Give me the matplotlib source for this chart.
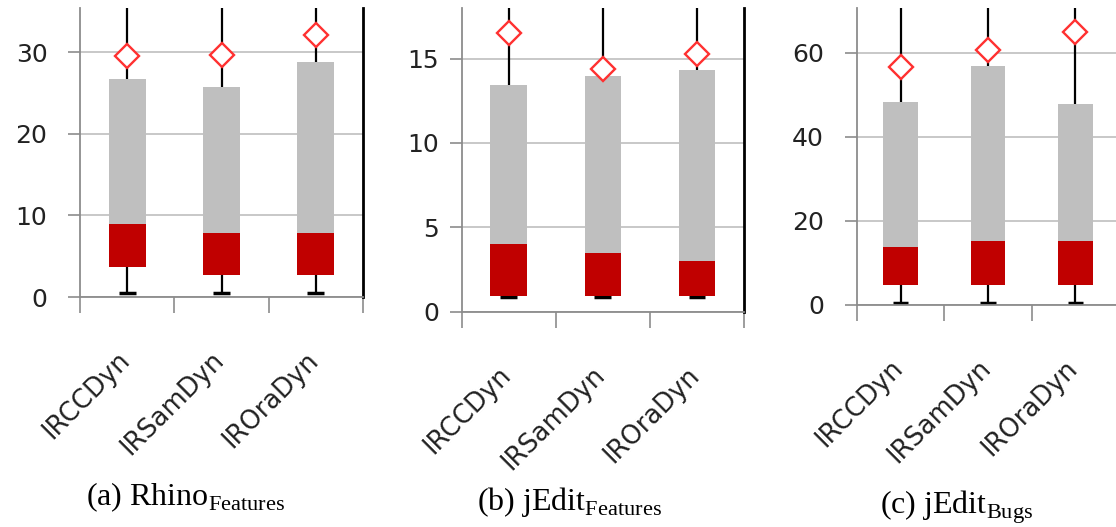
import matplotlib.pyplot as plt
from matplotlib.transforms import ScaledTranslation

plt.rcParams['mathtext.fontset'] = 'custom'
plt.rcParams['mathtext.rm'] = 'Liberation Serif'

methods = ['IRCCDyn', 'IRSamDyn', 'IROraDyn']

# (a) Rhino features
rhino_low = [0.5, 0.5, 0.5]
rhino_q1 = [3.7, 2.7, 2.7]
rhino_med = [8.9, 7.9, 7.9]
rhino_q3 = [26.8, 25.8, 28.8]
rhino_high = [40, 40, 40]      # upper whiskers run off the top of the crop
rhino_mean = [29.6, 29.7, 32.2]

# (b) jEdit features
jf_low = [0.85, 0.85, 0.85]
jf_q1 = [0.95, 0.95, 0.95]
jf_med = [4.0, 3.5, 3.0]
jf_q3 = [13.45, 13.95, 14.3]
jf_high = [20, 20, 20]
jf_mean = [16.5, 14.4, 15.3]

# (c) jEdit bugs
jb_low = [0.4, 0.4, 0.4]
jb_q1 = [4.8, 4.8, 4.8]
jb_med = [13.7, 15.1, 15.1]
jb_q3 = [48.2, 56.8, 47.7]
jb_high = [80, 80, 80]
jb_mean = [56.5, 60.6, 65.0]

RED = '#c00000'
GRAY = '#bfbfbf'
AXIS = '#8c8c8c'


def draw_panel(fig, rect, low, q1, med, q3, high, mean, ymax, yticks, ypad, right_spine):
    ax = fig.add_axes(rect)
    x = list(range(len(methods)))
    w = 0.39

    # whiskers behind the boxes
    ax.vlines(x, low, high, color='black', lw=1.6, zorder=2)
    ax.hlines(low, [i - 0.09 for i in x], [i + 0.09 for i in x], color='black', lw=2.5, zorder=2)

    ax.bar(x, [m - a for m, a in zip(med, q1)], bottom=q1, width=w, color=RED, zorder=3)
    ax.bar(x, [b - m for b, m in zip(q3, med)], bottom=med, width=w, color=GRAY, zorder=3)

    ax.plot(x, mean, linestyle='none', marker='D', ms=12, mfc='white',
            mec='#ff3030', mew=1.7, zorder=4, clip_on=False)

    ax.set_xlim(-0.5, 2.5)
    ax.set_ylim(0, ymax)
    ax.set_yticks(yticks)
    ax.yaxis.grid(True, color='#c4c4c4', lw=1.3)
    ax.set_axisbelow(True)

    ax.spines['top'].set_visible(False)
    ax.spines['left'].set_color(AXIS)
    ax.spines['left'].set_linewidth(1.3)
    ax.spines['bottom'].set_color(AXIS)
    ax.spines['bottom'].set_linewidth(1.3)
    if right_spine:
        ax.spines['right'].set_color('black')
        ax.spines['right'].set_linewidth(2)
    else:
        ax.spines['right'].set_visible(False)

    ax.tick_params(axis='y', direction='out', length=8.5, width=1.2, color=AXIS,
                   labelsize=18, pad=ypad, labelcolor='#222222')

    ax.set_xticks(x)
    ax.set_xticks([-0.5, 0.5, 1.5, 2.5], minor=True)
    ax.tick_params(axis='x', which='minor', direction='out', length=11.5, width=1.2, color=AXIS)
    ax.tick_params(axis='x', which='major', length=0, pad=36)
    ax.set_xticklabels(methods, rotation=45, ha='right', fontsize=18.5, color='#222222')
    shift = ScaledTranslation(8 / 100, 0, fig.dpi_scale_trans)
    for lab in ax.get_xticklabels():
        lab.set_transform(lab.get_transform() + shift)
    return ax


fig = plt.figure(figsize=(11.16, 5.27), dpi=100)

draw_panel(fig, [0.0717, 0.4364, 0.2536, 0.5484], rhino_low, rhino_q1, rhino_med,
           rhino_q3, rhino_high, rhino_mean, 35.45, [0, 10, 20, 30], 15, True)
draw_panel(fig, [0.4137, 0.4085, 0.2530, 0.5763], jf_low, jf_q1, jf_med,
           jf_q3, jf_high, jf_mean, 18.0, [0, 5, 10, 15], 8, True)
draw_panel(fig, [0.7677, 0.4213, 0.2352, 0.5636], jb_low, jb_q1, jb_med,
           jb_q3, jb_high, jb_mean, 70.6, [0, 20, 40, 60], 15, False)

fig.text(186 / 1116, 1 - 505 / 527, r'(a) Rhino$_{\mathrm{Features}}$', ha='center',
         va='baseline', fontsize=23, family='Liberation Serif')
fig.text(569 / 1116, 1 - 510 / 527, r'(b) jEdit$_{\mathrm{Features}}$', ha='center',
         va='baseline', fontsize=23, family='Liberation Serif')
fig.text(957 / 1116, 1 - 514 / 527, r'(c) jEdit$_{\mathrm{Bugs}}$', ha='center',
         va='baseline', fontsize=23, family='Liberation Serif')

fig.savefig('out.png', dpi=100)
